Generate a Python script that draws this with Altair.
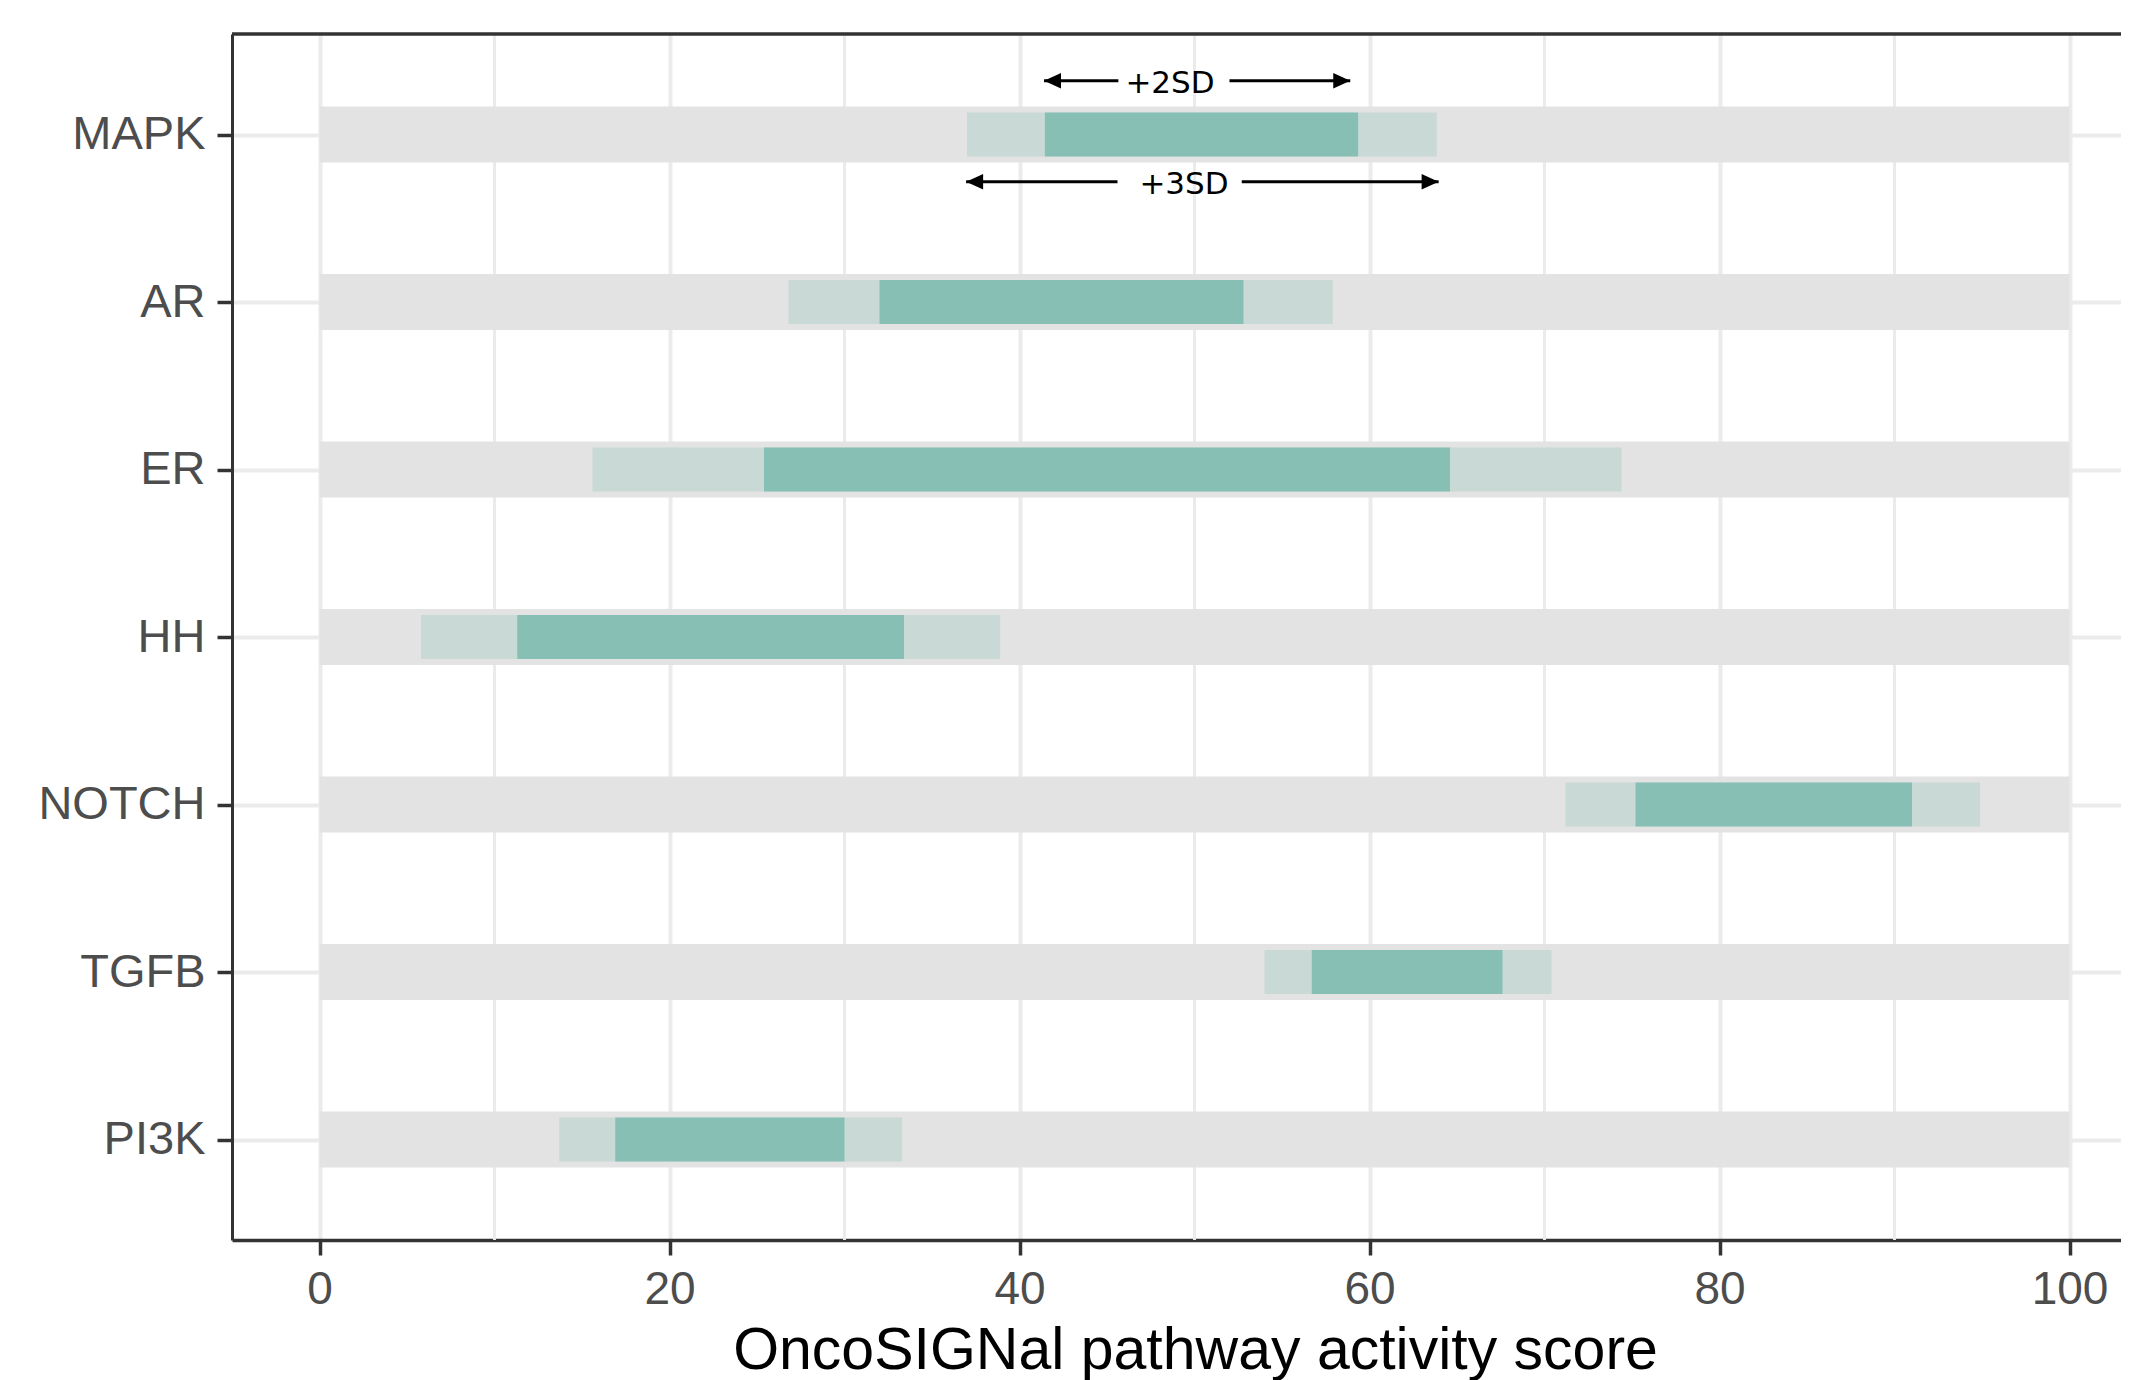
import altair as alt
import pandas as pd

# ---- data ----
pathways = ["MAPK", "AR", "ER", "HH", "NOTCH", "TGFB", "PI3K"]
lo3 = [37.0, 26.8, 15.6, 5.8, 71.2, 54.0, 13.7]    # mean - 3SD
lo2 = [41.45, 32.0, 25.4, 11.3, 75.2, 56.7, 16.9]  # mean - 2SD
hi2 = [59.35, 52.8, 64.6, 33.4, 91.0, 67.6, 30.0]  # mean + 2SD
hi3 = [63.85, 57.9, 74.4, 38.9, 94.9, 70.4, 33.3]  # mean + 3SD
score_min = [0] * len(pathways)
score_max = [100] * len(pathways)

major_breaks = [0, 20, 40, 60, 80, 100]
minor_breaks = [10, 30, 50, 70, 90]

# annotation (drawn on the MAPK row)
ann_labels = ["+2SD", "+3SD"]
ann_row = ["MAPK", "MAPK"]
ann_row_shift = [-0.321, 0.282]          # in row units
ann_text_x = [48.6, 49.4]
ann_left_tip = [41.4, 36.95]
ann_left_end = [45.65, 45.6]
ann_right_start = [52.0, 52.7]
ann_right_tip = [58.9, 63.95]

# ---- layout ----
W, H = 1889, 1206
PX_PER_UNIT = 17.5
XMIN = -5
XMAX = XMIN + W / PX_PER_UNIT
FONT = "Liberation Sans"
GREY_TXT = "#4D4D4D"
BORDER = "#333333"
GRID = "#EBEBEB"

df = pd.DataFrame({
    "pathway": pathways,
    "idx": list(range(1, len(pathways) + 1)),
    "lo3": lo3, "lo2": lo2, "hi2": hi2, "hi3": hi3,
    "smin": score_min, "smax": score_max,
})

row_of = {p: i + 1 for i, p in enumerate(pathways)}
ann = pd.DataFrame({
    "label": ann_labels,
    "y": [row_of[r] + s for r, s in zip(ann_row, ann_row_shift)],
    "tx": ann_text_x,
    "ltip": ann_left_tip, "lend": ann_left_end,
    "rstart": ann_right_start, "rtip": ann_right_tip,
})
minor_df = pd.DataFrame({"b": minor_breaks})

xscale = alt.Scale(domain=[XMIN, XMAX], nice=False, zero=False, padding=0)
yscale = alt.Scale(domain=[0.4, len(pathways) + 0.6], reverse=True, nice=False,
                   zero=False, padding=0)

label_expr = "[''," + ",".join("'%s'" % p for p in pathways) + "][datum.value]"

x_axis = alt.Axis(
    values=major_breaks,
    grid=True, gridColor=GRID, gridWidth=4,
    tickColor=BORDER, tickWidth=3.5, tickSize=15,
    domainColor=BORDER, domainWidth=3.5,
    labelFont=FONT, labelFontSize=46, labelColor=GREY_TXT, labelPadding=12,
    labelFlush=False,
    title="OncoSIGNal pathway activity score",
    titleFont=FONT, titleFontSize=59, titleFontWeight="normal", titleColor="black",
    titleX=963, titleY=128, titleAlign="center", titleBaseline="alphabetic",
)
y_axis = alt.Axis(
    values=list(range(1, len(pathways) + 1)),
    labelExpr=label_expr,
    grid=True, gridColor=GRID, gridWidth=4,
    tickColor=BORDER, tickWidth=3.5, tickSize=15,
    domainColor=BORDER, domainWidth=3,
    labelFont=FONT, labelFontSize=47, labelColor=GREY_TXT, labelPadding=12,
    labelFlush=False,
    title="",
)


def X(field):
    return alt.X(field, scale=xscale, axis=x_axis)


def Y(field):
    return alt.Y(field, scale=yscale, axis=y_axis)


minor_grid = alt.Chart(minor_df).mark_rule(color=GRID, strokeWidth=3).encode(
    x=X("b:Q"), y=alt.value(0), y2=alt.value(H),
)

base = alt.Chart(df)
bg = base.mark_bar(orient="horizontal", size=56, color="#E3E3E3").encode(
    y=Y("idx:Q"), x=X("smin:Q"), x2="smax:Q",
)
sd3 = base.mark_bar(orient="horizontal", size=44, color="#C9DAD6").encode(
    y=Y("idx:Q"), x=X("lo3:Q"), x2="hi3:Q",
)
sd2 = base.mark_bar(orient="horizontal", size=44, color="#88BFB4").encode(
    y=Y("idx:Q"), x=X("lo2:Q"), x2="hi2:Q",
)

abase = alt.Chart(ann)
left_line = abase.mark_rule(color="black", strokeWidth=3).encode(
    y=Y("y:Q"), x=X("ltip:Q"), x2="lend:Q",
)
right_line = abase.mark_rule(color="black", strokeWidth=3).encode(
    y=Y("y:Q"), x=X("rstart:Q"), x2="rtip:Q",
)
left_head = abase.mark_point(
    shape="M0,0 L2,-0.9 L2,0.9 Z", filled=True, color="black", size=289, opacity=1
).encode(y=Y("y:Q"), x=X("ltip:Q"))
right_head = abase.mark_point(
    shape="M0,0 L-2,-0.9 L-2,0.9 Z", filled=True, color="black", size=289, opacity=1
).encode(y=Y("y:Q"), x=X("rtip:Q"))
ann_text = abase.mark_text(
    font="DejaVu Sans", fontSize=31, color="black",
    baseline="middle", align="center", dy=3,
).encode(y=Y("y:Q"), x=X("tx:Q"), text="label:N")

top_border = alt.Chart(pd.DataFrame({"k": [0]})).mark_rule(
    color=BORDER, strokeWidth=3.5
).encode(x=alt.value(0), x2=alt.value(W), y=alt.value(0))

chart = alt.layer(
    minor_grid, bg, sd3, sd2, left_line, right_line, left_head, right_head,
    ann_text, top_border
).properties(
    width=W, height=H,
    autosize=alt.AutoSizeParams(type="none"),
    padding={"left": 224, "top": 26, "right": 0, "bottom": 140},
    background="white",
).configure_view(strokeWidth=0)

chart.save("out.html", embed_options={"renderer": "svg", "actions": False})
